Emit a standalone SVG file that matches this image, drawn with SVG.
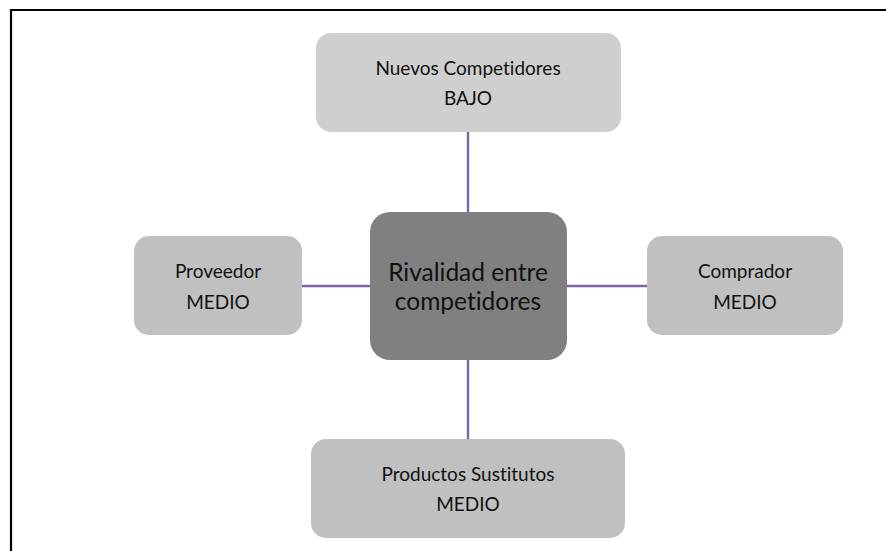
<svg xmlns="http://www.w3.org/2000/svg" width="886" height="551" viewBox="0 0 886 551">
<style>
.t{font-family:Lato,"Open Sans","Liberation Sans",sans-serif;font-size:19px;fill:#111;text-anchor:middle;font-variant-ligatures:none}
.c{font-family:Lato,"Open Sans","Liberation Sans",sans-serif;font-size:24.5px;fill:#111;text-anchor:middle;font-variant-ligatures:none}
.side{fill:#c0c0c0}
.conn{stroke:#8064a2;stroke-width:2.4;fill:none}
</style>
<rect x="0" y="0" width="886" height="551" fill="#ffffff"/>
<path d="M11 551 V10 H886" fill="none" stroke="#000" stroke-width="2.2"/>
<g id="connectors">
<line class="conn" x1="468" y1="132" x2="468" y2="212"/>
<line class="conn" x1="468" y1="360" x2="468" y2="439"/>
<line class="conn" x1="302" y1="286" x2="370" y2="286"/>
<line class="conn" x1="567" y1="286" x2="647" y2="286"/>
</g>
<g id="nuevos">
<rect x="316" y="33" width="305" height="99" rx="15" fill="#d0cfd0"/>
<text class="t" x="468" y="75">Nuevos Competidores</text>
<text class="t" x="468" y="105">BAJO</text>
</g>
<g id="rivalidad">
<rect x="370" y="212" width="197" height="148" rx="20" fill="#808080"/>
<text class="c" x="468" y="281">Rivalidad entre</text>
<text class="c" x="468" y="309.5">competidores</text>
</g>
<g id="proveedor">
<rect class="side" x="134" y="236" width="168" height="99" rx="15"/>
<text class="t" x="218" y="278">Proveedor</text>
<text class="t" x="218" y="309">MEDIO</text>
</g>
<g id="comprador">
<rect class="side" x="647" y="236" width="196" height="99" rx="15"/>
<text class="t" x="745" y="278">Comprador</text>
<text class="t" x="745" y="309">MEDIO</text>
</g>
<g id="productos">
<rect class="side" x="311" y="439" width="314" height="99" rx="15"/>
<text class="t" x="468" y="481">Productos Sustitutos</text>
<text class="t" x="468" y="511">MEDIO</text>
</g>
</svg>
